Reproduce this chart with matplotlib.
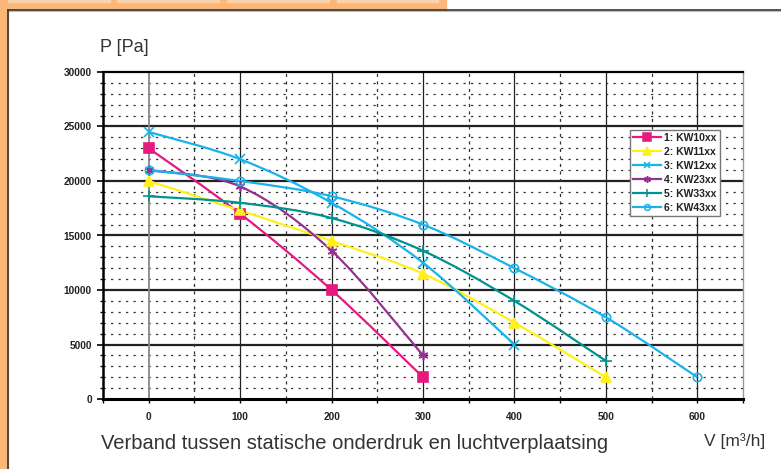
import matplotlib
matplotlib.use("Agg")
import matplotlib.pyplot as plt
from matplotlib.path import Path
from matplotlib.patches import PathPatch, Rectangle
from matplotlib.lines import Line2D
import numpy as np

plt.rcParams['font.family'] = ['Liberation Sans', 'DejaVu Sans']

# ---------------- data ----------------
x_vals = [0, 100, 200, 300, 400, 500, 600]
labels = ["1: KW10xx", "2: KW11xx", "3: KW12xx", "4: KW23xx", "5: KW33xx", "6: KW43xx"]
kw10 = [23000, 17000, 10000, 2000]
kw11 = [20000, 17300, 14500, 11500, 7000, 2000]
kw12 = [24500, 22000, 18000, 12500, 5000]
kw23 = [21000, 19500, 13600, 4000]
kw33 = [18600, 18000, 16600, 13600, 9000, 3500]
kw43 = [21000, 20000, 18600, 16000, 12000, 7500, 2000]
series = [kw10, kw11, kw12, kw23, kw33, kw43]
colors = ["#e6197f", "#fff01a", "#17b4ec", "#93328f", "#00938f", "#19b2ea"]
markers = ["s", "^", "x", (6, 2, 0), "+", "o"]
msizes = [7.5, 7.5, 7, 7, 8, 6]
y_ticks = [0, 5000, 10000, 15000, 20000, 25000, 30000]

W, H = 781, 469
fig = plt.figure(figsize=(W / 100, H / 100), dpi=100)
fig.patch.set_facecolor("white")

def fx(px):
    return px / W

def fy(py):
    return 1 - py / H

# orange frame
orange = "#fbb67a"
fig.patches.append(Rectangle((0, 0), fx(8), 1, transform=fig.transFigure, color=orange, zorder=0))
fig.patches.append(Rectangle((0, fy(10)), fx(446), 10 / H, transform=fig.transFigure, color=orange, zorder=0))
for a, b in [(8, 110), (117, 219), (227, 329), (337, 438)]:
    fig.patches.append(Rectangle((fx(a), fy(2)), fx(b - a), 2 / H, transform=fig.transFigure,
                                 color="#fcd2ab", zorder=1))
fig.add_artist(Line2D([fx(8), 1], [fy(10), fy(10)], transform=fig.transFigure, color="#333333", lw=1.2))
fig.add_artist(Line2D([fx(8), 1], [fy(11.3), fy(11.3)], transform=fig.transFigure, color="#bbbbbb", lw=0.8))
fig.add_artist(Line2D([fx(8), fx(8)], [0, fy(10)], transform=fig.transFigure, color="#333333", lw=1.2))

ax = fig.add_axes([fx(103), fy(399), fx(743 - 103), (399 - 72) / H])
ax.set_xlim(-50, 650)
ax.set_ylim(0, 30000)
ax.set_facecolor("white")

# grid
dots = (0, (1.8, 4.2))
for yv in range(1000, 30000, 1000):
    if yv % 5000 == 0:
        ax.axhline(yv, color="#222222", lw=1.6, zorder=1)
    else:
        ax.axhline(yv, color="#333333", lw=0.9, ls=dots, zorder=1)
for xv in range(0, 650, 100):
    ax.axvline(xv, color="#888888" if xv == 0 else "#222222", lw=1.3 if xv == 0 else 0.9, zorder=1)
for xv in range(50, 650, 100):
    ax.axvline(xv, color="#333333", lw=0.9, ls=(0, (2.5, 3.5)), zorder=1)

# spines
ax.spines['left'].set_linewidth(1.8)
ax.spines['bottom'].set_linewidth(2.2)
ax.spines['top'].set_linewidth(1.6)
ax.spines['right'].set_color("#999999")
ax.spines['right'].set_linewidth(1.0)

ax.set_yticks(y_ticks)
ax.set_yticklabels([str(v) for v in y_ticks], fontsize=7.3, fontweight="bold", color="#222222")
ax.set_yticks(range(0, 30001, 1000), minor=True)
ax.set_xticks(x_vals)
ax.set_xticklabels([str(v) for v in x_vals], fontsize=7.3, fontweight="bold", color="#222222")
ax.set_xticks(range(-50, 651, 50), minor=True)
ax.tick_params(axis="y", which="major", length=4, width=1.2, pad=4)
ax.tick_params(axis="y", which="minor", length=2.5, width=1.0)
ax.tick_params(axis="x", which="major", length=3, width=1.0, pad=6)
ax.tick_params(axis="x", which="minor", length=3, width=1.0)


def smooth_path(xs, ys):
    pts = np.column_stack([xs, ys]).astype(float)
    n = len(pts)
    verts = [pts[0]]
    codes = [Path.MOVETO]
    for i in range(n - 1):
        p0 = pts[i - 1] if i > 0 else pts[i]
        p1 = pts[i]
        p2 = pts[i + 1]
        p3 = pts[i + 2] if i + 2 < n else pts[i + 1]
        c1 = p1 + (p2 - p0) / 6.0
        c2 = p2 - (p3 - p1) / 6.0
        verts += [c1, c2, p2]
        codes += [Path.CURVE4] * 3
    return Path(verts, codes)


handles = []
for vals, c, m, ms, lab in zip(series, colors, markers, msizes, labels):
    xs = x_vals[:len(vals)]
    patch = PathPatch(smooth_path(xs, vals), facecolor="none", edgecolor=c, lw=1.6, zorder=3)
    ax.add_patch(patch)
    mfc = "none" if m == "o" else c
    ax.plot(xs, vals, ls="none", marker=m, ms=ms, color=c, mfc=mfc, mew=1.2, zorder=4, clip_on=False)
    handles.append(Line2D([], [], color=c, lw=1.6, marker=m, ms=ms * 0.7, mfc=mfc, mew=1.1, label=lab))

leg = ax.legend(handles=handles, loc="upper left", bbox_to_anchor=(fx(630), fy(130)),
                bbox_transform=fig.transFigure, prop={"weight": "bold", "size": 7.5},
                frameon=True, fancybox=False, framealpha=1, edgecolor="#777777",
                handlelength=2.7, handletextpad=0.3, labelspacing=0.38, borderpad=0.3,
                borderaxespad=0)
leg.get_frame().set_linewidth(1.0)
leg.set_zorder(6)
for t in leg.get_texts():
    t.set_color("#222222")

fig.text(fx(100), fy(47), "P [Pa]", fontsize=13, color="#333333", va="center", ha="left")
fig.text(fx(355), fy(443), "Verband tussen statische onderdruk en luchtverplaatsing",
         fontsize=14.5, color="#333333", va="center", ha="center")
fig.text(fx(704), fy(441), "V [m³/h]", fontsize=12.5, color="#333333", va="center", ha="left")

fig.savefig("out.png", dpi=100)
